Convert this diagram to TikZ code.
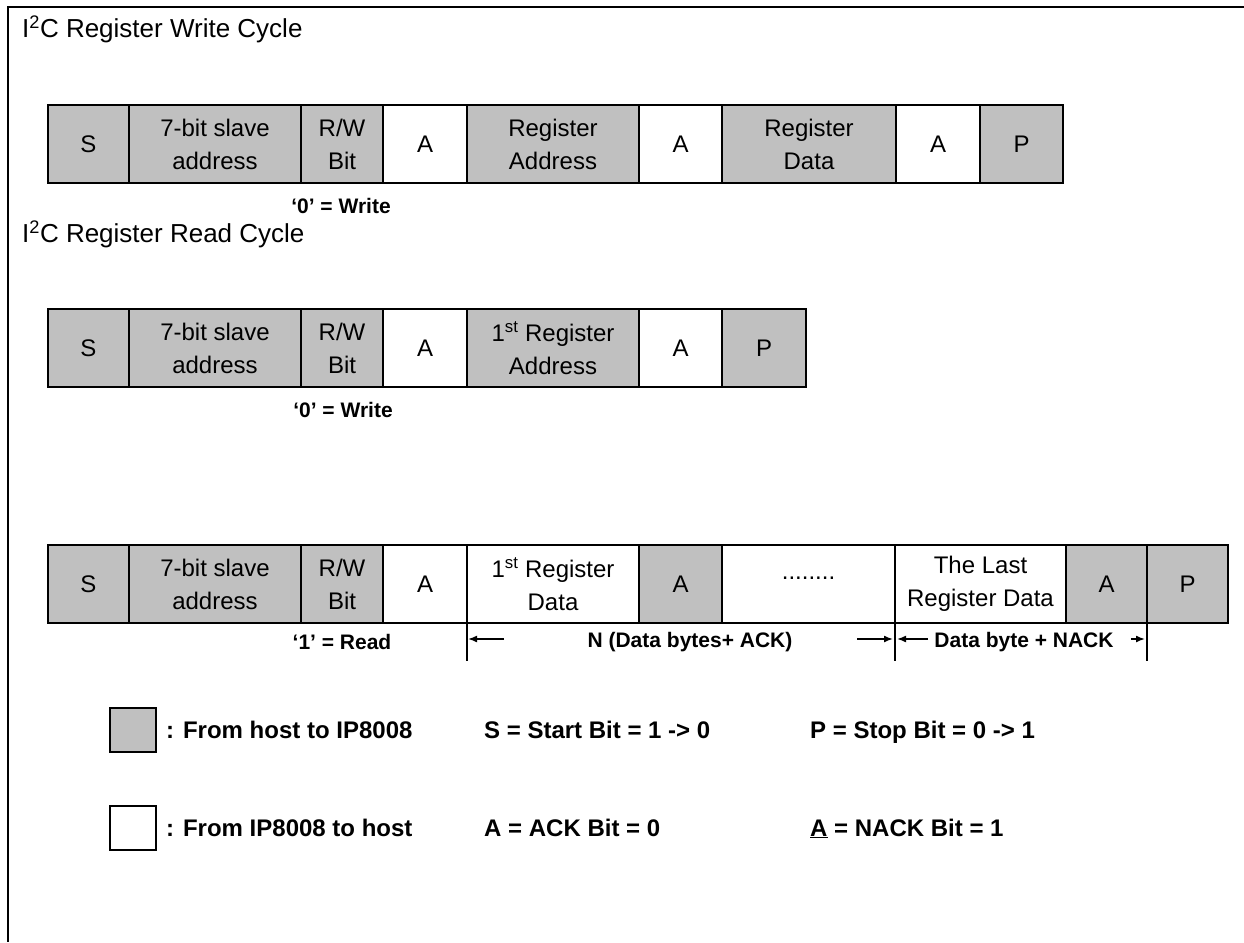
\documentclass[tikz,border=0pt]{standalone}
\usepackage{fontspec}
\setmainfont{Liberation Sans}
\usetikzlibrary{positioning,arrows.meta}
\definecolor{hostgray}{RGB}{192,192,192}
\tikzset{
  cell/.style={draw, line width=2.4pt, minimum height=78pt, minimum width=83pt,
    inner sep=0pt, outer sep=0pt, align=center, font=\fontsize{24}{33}\selectfont},
  hostcell/.style={cell, fill=hostgray},
  devcell/.style={cell, fill=white},
  wide/.style={minimum width=172pt},
  keybox/.style={minimum width=46pt, minimum height=44pt},
  heading/.style={anchor=west, inner sep=0pt, font=\fontsize{26}{30}\selectfont},
  note/.style={font=\fontsize{21}{24}\selectfont\bfseries},
  keytext/.style={anchor=base west, inner sep=0pt, font=\fontsize{24}{26}\selectfont\bfseries},
  arr/.style={-{Latex[length=9pt,width=7pt]}, line width=1.6pt},
}
\begin{document}
\begin{tikzpicture}[x=1pt, y=-1pt]
 \useasboundingbox (0,0) rectangle (1244,942);
 \draw[line width=2.6pt] (1244,7) -| (8,942);

 % write cycle
 \node[heading] (wTitle) at (22,29) {I\textsuperscript{2}C Register Write Cycle};
 \node[hostcell, minimum width=81pt, anchor=north west] (wS) at (48,105) {S};
 \node[hostcell, wide, right=0pt of wS] (wSlave) {7-bit slave\\address};
 \node[hostcell, minimum width=82pt, right=0pt of wSlave] (wRW) {R/W\\Bit};
 \node[devcell, minimum width=84pt, right=0pt of wRW] (wA1) {A};
 \node[hostcell, wide, right=0pt of wA1] (wReg) {Register\\Address};
 \node[devcell, right=0pt of wReg] (wA2) {A};
 \node[hostcell, minimum width=174pt, right=0pt of wA2] (wData) {Register\\Data};
 \node[devcell, minimum width=84pt, right=0pt of wData] (wA3) {A};
 \node[hostcell, right=0pt of wA3] (wP) {P};
 \node[note] (wBit) at (341,206) {‘0’ = Write};

 % read cycle, address phase
 \node[heading] (rTitle) at (22,234) {I\textsuperscript{2}C Register Read Cycle};
 \node[hostcell, minimum width=81pt, anchor=north west] (aS) at (48,309) {S};
 \node[hostcell, wide, right=0pt of aS] (aSlave) {7-bit slave\\address};
 \node[hostcell, minimum width=82pt, right=0pt of aSlave] (aRW) {R/W\\Bit};
 \node[devcell, minimum width=84pt, right=0pt of aRW] (aA1) {A};
 \node[hostcell, wide, right=0pt of aA1] (aReg) {1\textsuperscript{st} Register\\Address};
 \node[devcell, right=0pt of aReg] (aA2) {A};
 \node[hostcell, minimum width=84pt, right=0pt of aA2] (aP) {P};
 \node[note] (aBit) at (343,410) {‘0’ = Write};

 % read cycle, data phase
 \node[hostcell, minimum width=81pt, anchor=north west] (dS) at (48,545) {S};
 \node[hostcell, wide, right=0pt of dS] (dSlave) {7-bit slave\\address};
 \node[hostcell, minimum width=82pt, right=0pt of dSlave] (dRW) {R/W\\Bit};
 \node[devcell, minimum width=84pt, right=0pt of dRW] (dA1) {A};
 \node[devcell, wide, right=0pt of dA1] (dFirst) {1\textsuperscript{st} Register\\Data};
 \node[hostcell, right=0pt of dFirst] (dA2) {A};
 \node[devcell, minimum width=173pt, right=0pt of dA2] (dDots) {\raisebox{12pt}{........}};
 \node[devcell, minimum width=171pt, right=0pt of dDots] (dLast) {The Last\\Register Data};
 \node[hostcell, minimum width=81pt, right=0pt of dLast] (dA3) {A};
 \node[hostcell, minimum width=81pt, right=0pt of dA3] (dP) {P};
 \node[note] (dBit) at (342,642) {‘1’ = Read};

 \coordinate (k1) at ([yshift=-38pt]dFirst.south west);
 \coordinate (k2) at ([yshift=-38pt]dLast.south west);
 \coordinate (k3) at ([yshift=-38pt]dP.south west);
 \draw[line width=1.6pt] (dFirst.south west) -- (k1);
 \draw[line width=1.6pt] (dLast.south west) -- (k2);
 \draw[line width=1.6pt] (dP.south west) -- (k3);
 \coordinate (n1) at (504,639);
 \coordinate (n1e) at (468,639);
 \coordinate (n2) at (857,639);
 \coordinate (n2e) at (893,639);
 \coordinate (l1) at (928,639);
 \coordinate (l1e) at (897,639);
 \coordinate (l2) at (1131,639);
 \coordinate (l2e) at (1145,639);
 \draw[arr] (n1) -- (n1e);
 \draw[arr] (n2) -- (n2e);
 \draw[arr] (l1) -- (l1e);
 \draw[arr] (l2) -- (l2e);
 \node[note] (nText) at (690,642) {N (Data bytes+ ACK)};
 \node[note] (lText) at (1024,642) {Data byte + NACK};

 % legend
 \node[hostcell, keybox] (keyHost) at (133,730) {};
 \node[devcell, keybox] (keyDev) at (133,828) {};
 \node[keytext] (keyHostTxt) at (166,738) {: From host to IP8008};
 \node[keytext] (keyStart) at (484,738) {S = Start Bit = 1 -> 0};
 \node[keytext] (keyStop) at (810,738) {P = Stop Bit = 0 -> 1};
 \node[keytext] (keyDevTxt) at (166,836) {: From IP8008 to host};
 \node[keytext] (keyAck) at (484,836) {A = ACK Bit = 0};
 \node[keytext] (keyNack) at (810,836) {\underline{A} = NACK Bit = 1};
\end{tikzpicture}
\end{document}
